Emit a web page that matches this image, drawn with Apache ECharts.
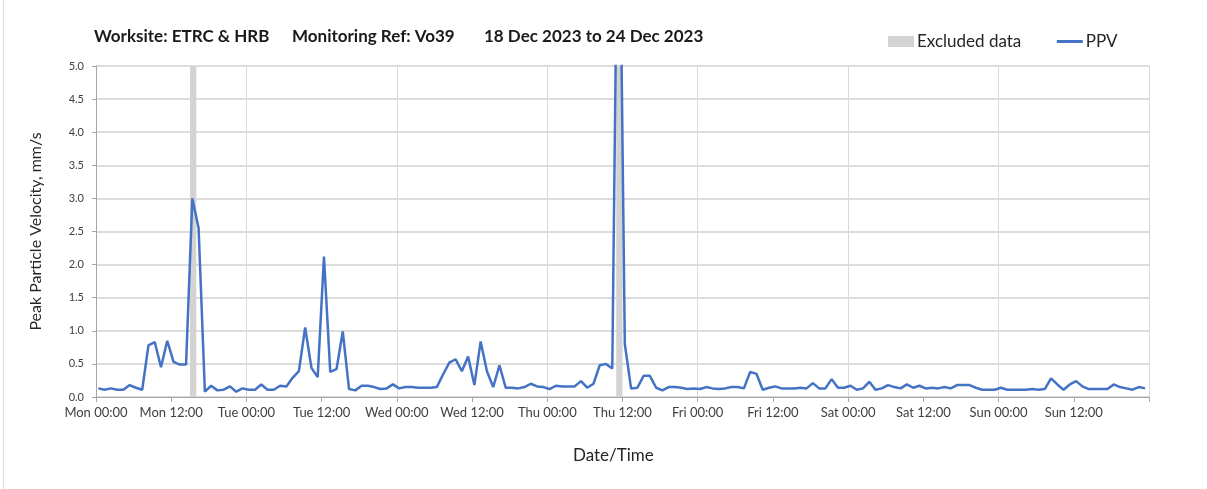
<!DOCTYPE html>
<html>
<head>
<meta charset="utf-8">
<script src="https://cdn.jsdelivr.net/npm/echarts@6/dist/echarts.min.js"></script>
<style>
html,body{margin:0;padding:0;background:#fff;}
#chart{width:1207px;height:489px;}
</style>
</head>
<body>
<div id="chart"></div>
<script>
// Hours since Mon 18 Dec 2023 00:00 of the first reading (readings are hourly)
const firstReadingHour = 0.37;
// PPV readings (mm/s), hourly, Mon 00:22 .. Sun 23:22
const ppv = [
  0.13,0.11,0.13,0.11,0.11,0.18,0.14,0.11,0.78,0.83,
  0.45,0.85,0.53,0.49,0.49,3.00,2.55,0.08,0.17,0.10,
  0.11,0.16,0.08,0.13,0.11,0.11,0.19,0.11,0.11,0.17,
  0.16,0.29,0.39,1.05,0.44,0.30,2.12,0.38,0.42,0.99,
  0.12,0.10,0.17,0.17,0.15,0.12,0.13,0.19,0.13,0.15,
  0.15,0.14,0.14,0.14,0.15,0.34,0.52,0.57,0.39,0.61,
  0.18,0.84,0.39,0.15,0.48,0.14,0.14,0.13,0.15,0.20,
  0.16,0.15,0.12,0.17,0.16,0.16,0.16,0.24,0.14,0.20,
  0.48,0.50,0.43,9.00,0.80,0.13,0.14,0.32,0.32,0.14,
  0.10,0.15,0.15,0.14,0.12,0.13,0.12,0.15,0.13,0.12,
  0.13,0.15,0.15,0.13,0.38,0.35,0.11,0.14,0.16,0.13,
  0.13,0.13,0.14,0.13,0.21,0.13,0.13,0.27,0.14,0.14,
  0.17,0.11,0.13,0.23,0.11,0.13,0.18,0.15,0.13,0.19,
  0.14,0.17,0.13,0.14,0.13,0.15,0.13,0.18,0.18,0.18,
  0.14,0.11,0.11,0.11,0.14,0.11,0.11,0.11,0.11,0.12,
  0.11,0.12,0.28,0.19,0.11,0.19,0.24,0.16,0.12,0.12,
  0.12,0.12,0.19,0.15,0.13,0.11,0.15,0.13
];
// Excluded-data periods, [startHour, endHour] since Mon 00:00
const excluded = [[15, 16], [83, 84]];
// X tick labels every 12 hours
const xTickLabels = ["Mon 00:00","Mon 12:00","Tue 00:00","Tue 12:00","Wed 00:00","Wed 12:00",
  "Thu 00:00","Thu 12:00","Fri 00:00","Fri 12:00","Sat 00:00","Sat 12:00","Sun 00:00","Sun 12:00",""];
const yTicks = [0,0.5,1,1.5,2,2.5,3,3.5,4,4.5,5];
const titleParts = ["Worksite: ETRC & HRB", "Monitoring Ref: Vo39", "18 Dec 2023 to 24 Dec 2023"];

const FONT = 'Lato';
const lineData = ppv.map((v, i) => [firstReadingHour + i, v]);
const titleStyle = {fontFamily: FONT, fontSize: 17, fontWeight: 'bold', color: '#1a1a1a'};

const chart = echarts.init(document.getElementById('chart'), null, {renderer: 'canvas'});
chart.setOption({
  animation: false,
  backgroundColor: '#fff',
  title: [
    {text: titleParts[0], left: 94, top: 28, padding: 0, textStyle: titleStyle},
    {text: titleParts[1], left: 292, top: 28, padding: 0, textStyle: titleStyle},
    {text: titleParts[2], left: 484, top: 28, padding: 0, textStyle: titleStyle}
  ],
  legend: {
    left: 888, top: 33, padding: 0, itemGap: 34, itemWidth: 26, itemHeight: 11,
    textStyle: {fontFamily: FONT, fontSize: 17, color: '#262626', padding: [0,0,0,-2]},
    data: [
      {name: 'Excluded data', icon: 'rect', itemStyle: {color: '#d3d3d3'}},
      {name: 'PPV', itemStyle: {opacity: 0}, lineStyle: {color: '#4472c4', width: 3}}
    ]
  },
  grid: {left: 96, right: 58, top: 66, bottom: 92, containLabel: false},
  xAxis: [
    {
      type: 'value', min: 0, max: 168, interval: 12,
      axisLine: {show: true, onZero: false, lineStyle: {color: '#a6a6a6', width: 1}},
      axisTick: {show: true, length: 5, lineStyle: {color: '#a6a6a6'}},
      splitLine: {show: false},
      axisLabel: {
        fontFamily: FONT, fontSize: 13, color: '#404040', margin: 9,
        formatter: v => xTickLabels[Math.round(v / 12)] || ''
      }
    },
    {
      type: 'value', min: 0, max: 168, interval: 24, position: 'bottom',
      axisLine: {show: false}, axisTick: {show: false}, axisLabel: {show: false},
      splitLine: {show: true, lineStyle: {color: '#d9d9d9', width: 1}}
    }
  ],
  yAxis: {
    type: 'value', min: 0, max: 5, interval: 0.5,
    name: 'Peak Particle Velocity, mm/s', nameLocation: 'middle', nameGap: 52,
    nameTextStyle: {fontFamily: FONT, fontSize: 16, color: '#262626'},
    axisLine: {show: true, lineStyle: {color: '#a6a6a6'}},
    axisTick: {show: true, length: 4, lineStyle: {color: '#a6a6a6'}},
    splitLine: {show: true, lineStyle: {color: '#d0d0d0', width: 1.5}},
    axisLabel: {fontFamily: FONT, fontSize: 11, color: '#404040', margin: 12,
      formatter: v => yTicks.includes(v) ? v.toFixed(1) : ''}
  },
  series: [
    {
      name: 'Excluded data', type: 'line', data: [], symbol: 'none',
      itemStyle: {color: '#d3d3d3'},
      markArea: {
        silent: true,
        itemStyle: {color: '#d3d3d3'},
        label: {show: false},
        data: excluded.map(r => [{xAxis: r[0], yAxis: 0}, {xAxis: r[1], yAxis: 5}])
      }
    },
    {
      name: 'PPV', type: 'line', data: lineData, symbol: 'none', clip: true,
      lineStyle: {color: '#4472c4', width: 2.5},
      itemStyle: {color: '#4472c4'}
    }
  ],
  graphic: [
    {type: 'text', left: 573, top: 447, style: {text: 'Date/Time', fontFamily: FONT, fontSize: 17, fill: '#262626'}},
    {type: 'line', shape: {x1: 3.5, y1: 0, x2: 3.5, y2: 489}, style: {stroke: '#e0e0e0', lineWidth: 1}}
  ]
});
</script>
</body>
</html>
